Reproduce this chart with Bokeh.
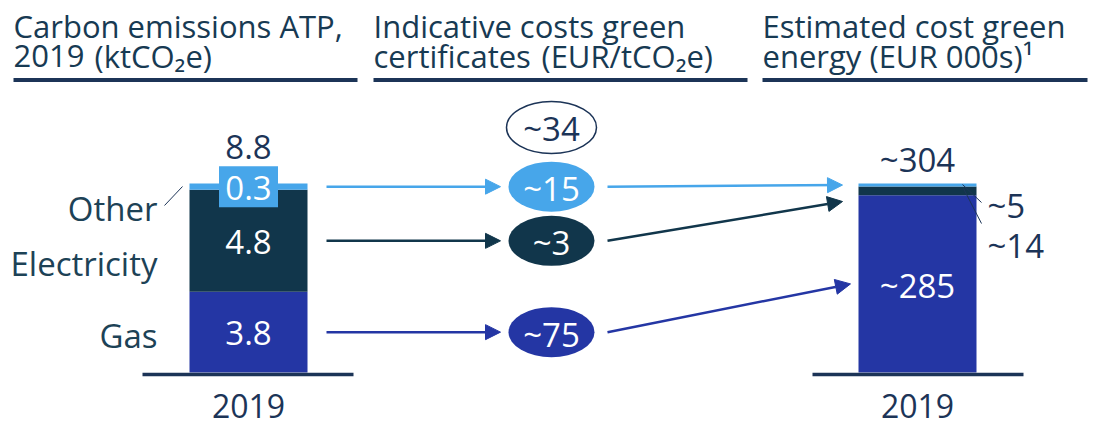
from bokeh.plotting import figure
from bokeh.models import Range1d, Arrow, NormalHead, ColumnDataSource
from bokeh.embed import file_html
from bokeh.resources import INLINE
from bokeh.core.properties import value

# ---------------- data ----------------
segments = ["Gas", "Electricity", "Other"]
emis_vals = [3.8, 4.8, 0.3]            # ktCO2e
emis_labels = ["3.8", "4.8", "0.3"]
emis_total = "8.8"
cert_labels = ["~75", "~3", "~15"]     # EUR/tCO2e
cert_total = "~34"
cost_vals = [285, 14, 5]               # EUR 000s
cost_labels = ["~285", "~14", "~5"]
cost_total = "~304"
year = "2019"
headers_l1 = ["Carbon emissions ATP,", "Indicative costs green", "Estimated cost green"]
headers_l2a = ["2019", "certificates", "energy"]
headers_l2b = ["(ktCO\u2082e)", "(EUR/tCO\u2082e)", "(EUR 000s)\u00b9"]

# ---------------- style ----------------
COLORS = ["#2436A4", "#11364B", "#47A6EA"]
TEXT = "#173A53"
NAVY = "#1C3457"
FONT = value("Open Sans")
FS_H = "31px"
FS = "33px"
W, H = 1095, 427
BASE, TOPPX = 372, 183
DY = -10   # renderer baseline correction (px)

p = figure(width=W, height=H, x_range=Range1d(0, W), y_range=Range1d(H, 0),
           output_backend="svg", toolbar_location=None, min_border=0,
           x_axis_location=None, y_axis_location=None)
p.grid.visible = False
p.outline_line_color = None
p.background_fill_color = "white"
p.border_fill_color = "white"

e_scale = (BASE - TOPPX) / sum(emis_vals)
c_scale = (BASE - TOPPX) / sum(cost_vals)
p.extra_y_ranges = {
    "emis": Range1d(-(H - BASE) / e_scale, BASE / e_scale),
    "cost": Range1d(-(H - BASE) / c_scale, BASE / c_scale),
}

def stack(vals):
    bottoms, tops, acc = [], [], 0
    for v in vals:
        bottoms.append(acc); acc += v; tops.append(acc)
    mids = [(b + t) / 2 for b, t in zip(bottoms, tops)]
    return bottoms, tops, mids

eb, et, em = stack(emis_vals)
cb, ct, cm = stack(cost_vals)

def txt(x, y, t, color, align="left", size=FS, **kw):
    p.text(x=x, y=y, text=t, text_font=FONT, text_font_size=size, text_color=color,
           text_align=align, text_baseline="alphabetic", **kw)

# ---------------- headers ----------------
hx = [13, 373, 762]
hx2 = [94, 541, 869]
hline = [(13, 357), (373, 747), (762, 1087)]
txt(hx, [35 + DY] * 3, headers_l1, TEXT, size=FS_H)
txt(hx, [65 + DY] * 3, headers_l2a, TEXT, size=FS_H)
txt(hx2, [65 + DY] * 3, headers_l2b, TEXT, size=FS_H)
p.segment(x0=[a for a, b in hline], x1=[b for a, b in hline], y0=[79.5] * 3, y1=[79.5] * 3,
          line_color=NAVY, line_width=4)

# ---------------- left stacked bar ----------------
LX, BW = 248, 118
src_e = ColumnDataSource(dict(x=[LX] * 3, b=eb, t=et, c=COLORS))
p.vbar(x="x", width=BW, bottom="b", top="t", fill_color="c", line_color=None,
       source=src_e, y_range_name="emis")
# box behind the small "Other" value label
p.rect(x=[LX], y=[em[2]], width=59, height=41 / e_scale, fill_color=COLORS[2],
       line_color=None, y_range_name="emis")
txt([LX] * 3, em, emis_labels, "white", "center", y_offset=11 + DY, y_range_name="emis")
txt([LX], [et[-1]], [emis_total], NAVY, "center", y_offset=-27 + DY, y_range_name="emis")
# category labels
txt([157, 157, 157], [345 + DY, 273 + DY, 218 + DY], segments, "#1D4256", "right")
p.segment(x0=[164], y0=[205], x1=[182], y1=[186], line_color=NAVY, line_width=1)
p.segment(x0=[142], x1=[353], y0=[374], y1=[374], line_color=NAVY, line_width=3.5)
txt([LX], [415 + DY], [year], NAVY, "center", size="32px")

# ---------------- middle ellipses ----------------
MX = 551
p.ellipse(x=[MX] * 3, y=em, width=86, height=50 / e_scale, fill_color=COLORS,
          line_color=None, y_range_name="emis")
txt([MX] * 3, em, cert_labels, "white", "center", y_offset=12 + DY, y_range_name="emis")
p.ellipse(x=[MX], y=[127], width=90, height=52, fill_color="white",
          line_color=NAVY, line_width=1.5)
txt([MX], [138 + DY], [cert_total], NAVY, "center")

# arrows left -> middle
for i, c in enumerate(COLORS):
    p.add_layout(Arrow(x_start=326, x_end=500, y_start=em[i], y_end=em[i],
                       line_color=c, line_width=2.5, y_range_name="emis",
                       end=NormalHead(size=15, fill_color=c, line_color=c)))

# arrows middle -> right (pixel positions derived from the two scales)
tip_vals = [cm[0], cb[1] - 10, cm[2]]
tip_x = [850, 842, 842]
for i, c in enumerate(COLORS):
    ys = BASE - em[i] * e_scale
    ye = BASE - tip_vals[i] * c_scale
    p.add_layout(Arrow(x_start=607, x_end=tip_x[i], y_start=ys, y_end=ye,
                       line_color=c, line_width=2.5,
                       end=NormalHead(size=15, fill_color=c, line_color=c)))

# ---------------- right stacked bar ----------------
RX = 917
src_c = ColumnDataSource(dict(x=[RX] * 3, b=cb, t=ct, c=COLORS))
p.vbar(x="x", width=BW, bottom="b", top="t", fill_color="c", line_color=None,
       source=src_c, y_range_name="cost")
txt([RX], [cm[0]], [cost_labels[0]], "white", "center", y_offset=12 + DY, y_range_name="cost")
txt([RX], [ct[-1]], [cost_total], NAVY, "center", y_offset=-14 + DY, y_range_name="cost")
txt([987, 987], [255 + DY, 215 + DY], cost_labels[1:], NAVY, "left")
p.segment(x0=[962, 963], y0=[184, 188], x1=[981, 981], y1=[202, 223],
          line_color=NAVY, line_width=1)
p.segment(x0=[812], x1=[1023], y0=[374], y1=[374], line_color=NAVY, line_width=3.5)
txt([RX], [415 + DY], [year], NAVY, "center", size="32px")

open("out.html", "w").write(file_html(p, INLINE))
